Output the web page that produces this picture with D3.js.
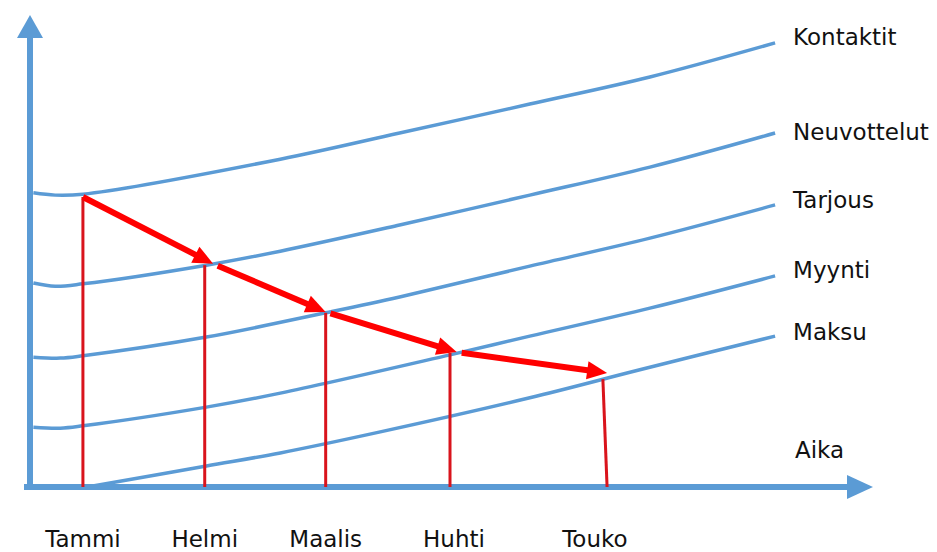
<!DOCTYPE html>
<html>
<head>
<meta charset="utf-8">
<script src="https://cdn.jsdelivr.net/npm/d3@7"></script>
<style>
  body { margin: 0; background: #fff; }
  text { font-family: "DejaVu Sans", Verdana, sans-serif; fill: #111; }
</style>
</head>
<body>
<script>
// series names (curve labels, from top to bottom)
var series = ["Kontaktit", "Neuvottelut", "Tarjous", "Myynti", "Maksu"];

// curve samples (x = time, y = level, both 0..100)
var kontaktitX = [0.4, 3, 6.3, 29.8, 44, 59.5, 73.8, 88.7];
var kontaktitY = [63.0, 62.5, 62.7, 70.2, 75.8, 82.0, 87.8, 95.1];
var neuvottelutX = [0.4, 3, 6.3, 21, 29.8, 44, 59.5, 73.8, 88.7];
var neuvottelutY = [43.7, 43.0, 43.5, 47.5, 50.5, 56.1, 62.5, 68.5, 75.8];
var tarjousX = [0.4, 3.6, 6.3, 21, 35.2, 44, 59.5, 73.8, 88.7];
var tarjousY = [27.8, 27.6, 28.1, 32.1, 37.3, 40.7, 47.3, 53.3, 60.4];
var myyntiX = [0.4, 3.6, 6.3, 21, 29.8, 50, 59.5, 73.8, 88.7];
var myyntiY = [12.8, 12.6, 13.1, 17.1, 20.1, 28.3, 32.3, 38.3, 45.2];
var maksuX = [6.8, 21, 29.8, 41.7, 59.5, 72.6, 88.7];
var maksuY = [0, 4.5, 7.3, 11.8, 19.1, 25.1, 32.3];

// months on the time axis, and the red drop lines
var months = ["Tammi", "Helmi", "Maalis", "Huhti", "Touko"];
var monthX = [6.3, 20.8, 35.2, 50, 68.2];
var monthBaseX = [6.3, 20.8, 35.2, 50, 68.7];
var monthTopY = [62.1, 47.5, 37.3, 28.7, 23.1];

// red arrow path (tips)
var tipX = [6.3, 21.8, 35.2, 50.8, 68.7];
var tipY = [62.1, 47.8, 37.5, 28.9, 24.4];

var axisLabel = "Aika";

var W = 937, H = 552;
var blue = "#5b9bd5";

var svg = d3.select("body").append("svg")
    .attr("width", W)
    .attr("height", H);

var x = d3.scaleLinear().domain([0, 100]).range([30, 870]);
var y = d3.scaleLinear().domain([0, 100]).range([487, 20]);

var curves = [
  { name: series[0], xs: kontaktitX, ys: kontaktitY, dy: 2 },
  { name: series[1], xs: neuvottelutX, ys: neuvottelutY, dy: 7 },
  { name: series[2], xs: tarjousX, ys: tarjousY, dy: 3 },
  { name: series[3], xs: myyntiX, ys: myyntiY, dy: 2 },
  { name: series[4], xs: maksuX, ys: maksuY, dy: 4 }
];

var line = d3.line()
    .x(function(d) { return x(d[0]); })
    .y(function(d) { return y(d[1]); })
    .curve(d3.curveCatmullRom.alpha(0.5));

// blue curves
curves.forEach(function(c) {
  var pts = c.xs.map(function(v, i) { return [v, c.ys[i]]; });
  svg.append("path")
      .attr("d", line(pts))
      .attr("fill", "none")
      .attr("stroke", blue)
      .attr("stroke-width", 3.5);
  var last = pts[pts.length - 1];
  svg.append("text")
      .attr("x", x(last[0]) + 18)
      .attr("y", y(last[1]) + c.dy)
      .attr("font-size", 23)
      .text(c.name);
});

// axes with arrow heads
var x0 = x(0), y0 = y(0);
svg.append("line")
    .attr("x1", x0).attr("x2", x0)
    .attr("y1", y0 + 3).attr("y2", y(100) + 16)
    .attr("stroke", blue).attr("stroke-width", 6);
svg.append("path")
    .attr("d", "M" + (x0 - 13) + "," + (y(100) + 18) + "L" + x0 + "," + (y(100) - 5) + "L" + (x0 + 13) + "," + (y(100) + 18) + "Z")
    .attr("fill", blue);
svg.append("line")
    .attr("x1", x0 - 6).attr("x2", x(100) - 22)
    .attr("y1", y0).attr("y2", y0)
    .attr("stroke", blue).attr("stroke-width", 6);
svg.append("path")
    .attr("d", "M" + (x(100) - 23) + "," + (y0 - 12) + "L" + (x(100) + 3) + "," + y0 + "L" + (x(100) - 23) + "," + (y0 + 12) + "Z")
    .attr("fill", blue);
svg.append("text")
    .attr("x", x(100) - 75)
    .attr("y", y0 - 29)
    .attr("font-size", 23)
    .text(axisLabel);

// red drop lines
months.forEach(function(m, i) {
  svg.append("line")
      .attr("x1", x(monthBaseX[i])).attr("y1", y0)
      .attr("x2", x(monthX[i])).attr("y2", y(monthTopY[i]))
      .attr("stroke", "#d9141c")
      .attr("stroke-width", 3);
  svg.append("text")
      .attr("x", x(monthX[i]) + (i == 4 ? -8 : i == 3 ? 4 : 0))
      .attr("y", 547)
      .attr("text-anchor", "middle")
      .attr("font-size", 23)
      .text(m);
});

// red arrows between the stages
for (var i = 1; i < tipX.length; i++) {
  var ax = x(tipX[i - 1]), ay = y(tipY[i - 1]);
  var bx = x(tipX[i]), by = y(tipY[i]);
  var dx = bx - ax, dy = by - ay;
  var len = Math.sqrt(dx * dx + dy * dy);
  var ux = dx / len, uy = dy / len;
  var hl = 20, hw = 9;
  var ex = bx - ux * (hl - 2), ey = by - uy * (hl - 2);
  svg.append("line")
      .attr("x1", ax + ux * (i > 1 ? 5 : 0)).attr("y1", ay + uy * (i > 1 ? 5 : 0))
      .attr("x2", ex).attr("y2", ey)
      .attr("stroke", "#ff0000")
      .attr("stroke-width", 6);
  var hx = bx - ux * hl, hy = by - uy * hl;
  svg.append("path")
      .attr("d", "M" + bx + "," + by +
                 "L" + (hx - uy * hw) + "," + (hy + ux * hw) +
                 "L" + (hx + uy * hw) + "," + (hy - ux * hw) + "Z")
      .attr("fill", "#ff0000");
}
</script>
</body>
</html>
